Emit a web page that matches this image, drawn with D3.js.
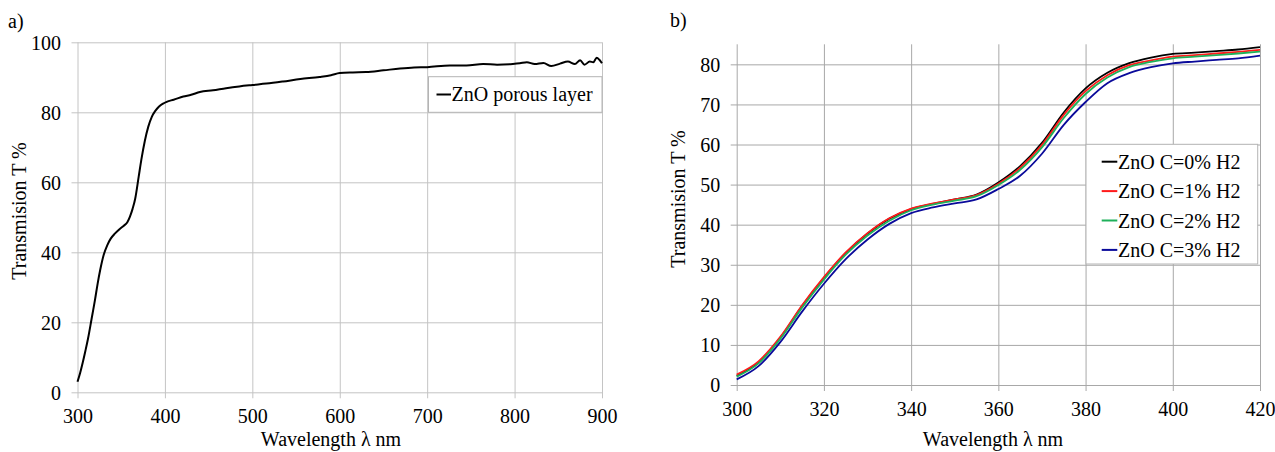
<!DOCTYPE html>
<html>
<head>
<meta charset="utf-8">
<script src="https://cdn.jsdelivr.net/npm/d3@7"></script>
<style>
  html, body { margin: 0; padding: 0; background: #fff; }
  svg { display: block; font-family: "Liberation Serif", "Times New Roman", serif; }
  .tick text { font-size: 20px; fill: #000; }
</style>
</head>
<body>
<svg id="chart" width="1275" height="452"></svg>
<script>
// Panel a) transmission spectrum of the porous ZnO layer
const wavelengthA = [300, 303, 306, 309, 312, 316, 320, 323, 326, 330, 334, 338, 343, 348, 353, 357,
  360, 363, 366, 370, 373, 377, 381, 385, 389, 393, 398, 402, 410, 421, 430, 440, 455, 470, 485,
  500, 516, 535, 555, 577, 590, 600, 615, 630, 650, 669, 685, 700, 726, 745, 764, 780, 798, 806,
  814, 823, 833, 842, 852, 861, 869, 875, 880, 886, 890, 894, 897, 900];
const transmissionA = [3.0, 5.5, 8.5, 11.8, 15.3, 20.8, 26.4, 31.0, 35.0, 39.3, 42.0, 43.9, 45.4, 46.6,
  47.6, 48.6, 50.2, 52.4, 55.3, 61.6, 66.4, 71.8, 75.9, 78.7, 80.4, 81.6, 82.5, 83.0, 83.6, 84.5,
  85.0, 85.8, 86.3, 86.9, 87.4, 87.8, 88.2, 88.8, 89.5, 90.1, 90.6, 91.2, 91.4, 91.5, 92.0, 92.5,
  92.8, 92.9, 93.4, 93.4, 93.8, 93.6, 93.8, 94.0, 94.3, 93.8, 94.1, 93.2, 93.9, 94.5, 93.8, 94.9,
  93.6, 94.5, 94.3, 95.6, 95.0, 94.0];
const seriesNameA = "ZnO porous layer";
const xTicksA = [300, 400, 500, 600, 700, 800, 900];
const yTicksA = [0, 20, 40, 60, 80, 100];

// Panel b) UV edge for different H2 concentrations
const wavelengthB = [300, 305, 310, 315, 320, 325, 330, 335, 340, 345, 350, 355, 360, 365, 370,
  375, 380, 385, 390, 395, 400, 405, 410, 415, 420];
const transmissionC0 = [2.3, 5.6, 11.8, 19.7, 26.7, 32.9, 37.8, 41.5, 43.9, 45.2, 46.3, 47.5, 50.5,
  54.6, 60.4, 68.0, 74.0, 77.9, 80.3, 81.7, 82.6, 82.9, 83.3, 83.7, 84.3];
const transmissionC1 = [2.6, 5.9, 12.0, 19.9, 26.9, 33.1, 37.9, 41.6, 44.0, 45.3, 46.3, 47.4, 50.2,
  54.2, 59.9, 67.4, 73.3, 77.3, 79.8, 81.0, 81.9, 82.3, 82.7, 83.1, 83.6];
const transmissionC2 = [2.1, 5.4, 11.5, 19.3, 26.3, 32.5, 37.3, 41.0, 43.6, 45.0, 46.0, 47.1, 49.9,
  53.7, 59.3, 66.6, 72.6, 76.7, 79.3, 80.6, 81.5, 81.9, 82.3, 82.7, 83.2];
const transmissionC3 = [1.4, 4.7, 10.7, 18.3, 25.25, 31.4, 36.3, 40.2, 42.9, 44.3, 45.3, 46.3, 48.9,
  52.2, 57.7, 64.9, 70.6, 75.3, 77.8, 79.3, 80.25, 80.7, 81.1, 81.5, 82.2];
const seriesNamesB = ["ZnO C=0% H2", "ZnO C=1% H2", "ZnO C=2% H2", "ZnO C=3% H2"];
const seriesColorsB = ["#000000", "#ff1a1a", "#1fb05a", "#0a0a9a"];
const xTicksB = [300, 320, 340, 360, 380, 400, 420];
const yTicksB = [0, 10, 20, 30, 40, 50, 60, 70, 80];

const svg = d3.select("#chart");
const serif = "'Liberation Serif', 'Times New Roman', serif";

// Grid lines + tick labels of one panel, drawn with d3 axes
function drawFrame(g, x, y, xTicks, yTicks, opts) {
  const [x0, x1] = x.range();
  const yb = y.range()[0];
  const ext = 6;
  const gx = g.append("g")
    .attr("transform", `translate(0,${yb + ext})`)
    .call(d3.axisBottom(x).tickValues(xTicks).tickSizeInner(-((yb + ext) - opts.gridTop)).tickSizeOuter(0));
  gx.attr("font-family", serif).attr("font-size", 20);
  gx.selectAll(".tick text").attr("y", opts.xPad).attr("dy", "0.71em");
  gx.select(".domain").remove();
  gx.selectAll(".tick line").attr("stroke", opts.grid).attr("stroke-width", 1);

  const gy = g.append("g")
    .attr("transform", `translate(${x0 - ext},0)`)
    .call(d3.axisLeft(y).tickValues(yTicks).tickSizeInner(-(x1 - x0 + ext)).tickSizeOuter(0).tickPadding(opts.yPad));
  gy.attr("font-family", serif).attr("font-size", 20);
  gy.select(".domain").remove();
  gy.selectAll(".tick line").attr("stroke", opts.grid).attr("stroke-width", 1);
  gy.selectAll(".tick text").attr("dy", "0.34em");
}

// ---------- panel a ----------
const xA = d3.scaleLinear().domain([300, 900]).range([77.5, 602]);
const yA = d3.scaleLinear().domain([0, 100]).range([392.3, 42.3]);
const gA = svg.append("g");
drawFrame(gA, xA, yA, xTicksA, yTicksA, { grid: "#c4c4c4", gridTop: 42.3, xPad: 10.5, yPad: 10.5 });

const lineA = d3.line().x((d, i) => xA(wavelengthA[i])).y(d => yA(d)).curve(d3.curveMonotoneX);
gA.append("path").datum(transmissionA)
  .attr("d", lineA).attr("fill", "none").attr("stroke", "#000").attr("stroke-width", 2)
  .attr("stroke-linejoin", "round");

// legend a
const legA = gA.append("g").attr("transform", "translate(428.5,76.7)");
legA.append("rect").attr("width", 173.5).attr("height", 35.6)
  .attr("fill", "#fff").attr("stroke", "#b4b4b4").attr("stroke-width", 1);
legA.append("line").attr("x1", 8).attr("x2", 22.5).attr("y1", 17.8).attr("y2", 17.8)
  .attr("stroke", "#000").attr("stroke-width", 2);
legA.append("text").attr("x", 23).attr("y", 24.8).attr("font-size", 20).text(seriesNameA);

gA.append("text").attr("x", 8).attr("y", 28).attr("font-size", 20).text("a)");
gA.append("text").attr("x", 331).attr("y", 446).attr("text-anchor", "middle")
  .attr("font-size", 20).text("Wavelength λ nm");
gA.append("text").attr("transform", "translate(26,211) rotate(-90)").attr("text-anchor", "middle")
  .attr("font-size", 20).text("Transmision T %");

// ---------- panel b ----------
const xB = d3.scaleLinear().domain([300, 420]).range([736.7, 1260]);
const yB = d3.scaleLinear().domain([0, 85]).range([385, 44.3]);
const gB = svg.append("g");
drawFrame(gB, xB, yB, xTicksB, yTicksB, { grid: "#a8a8a8", gridTop: 44.3, xPad: 11, yPad: 10.5 });

const seriesB = [transmissionC0, transmissionC1, transmissionC2, transmissionC3];
const lineB = d3.line().x((d, i) => xB(wavelengthB[i])).y(d => yB(d)).curve(d3.curveMonotoneX);
gB.selectAll("path.series").data(seriesB).join("path")
  .attr("class", "series")
  .attr("d", lineB).attr("fill", "none")
  .attr("stroke", (d, i) => seriesColorsB[i]).attr("stroke-width", 1.8);

// legend b
const legB = gB.append("g").attr("transform", "translate(1086,144.3)");
legB.append("rect").attr("width", 171.7).attr("height", 119.7)
  .attr("fill", "#fff").attr("stroke", "#b4b4b4").attr("stroke-width", 1);
const items = legB.selectAll("g.item").data(seriesNamesB).join("g")
  .attr("class", "item").attr("transform", (d, i) => `translate(0,${17.4 + i * 29.4})`);
items.append("line").attr("x1", 15.7).attr("x2", 31.3).attr("y1", 0).attr("y2", 0)
  .attr("stroke", (d, i) => seriesColorsB[i]).attr("stroke-width", 2);
items.append("text").attr("x", 32).attr("y", 7).attr("font-size", 20).text(d => d);

gB.append("text").attr("x", 670).attr("y", 27).attr("font-size", 20).text("b)");
gB.append("text").attr("x", 993).attr("y", 446).attr("text-anchor", "middle")
  .attr("font-size", 20).text("Wavelength λ nm");
gB.append("text").attr("transform", "translate(685,199) rotate(-90)").attr("text-anchor", "middle")
  .attr("font-size", 20).text("Transmision T %");
</script>
</body>
</html>
